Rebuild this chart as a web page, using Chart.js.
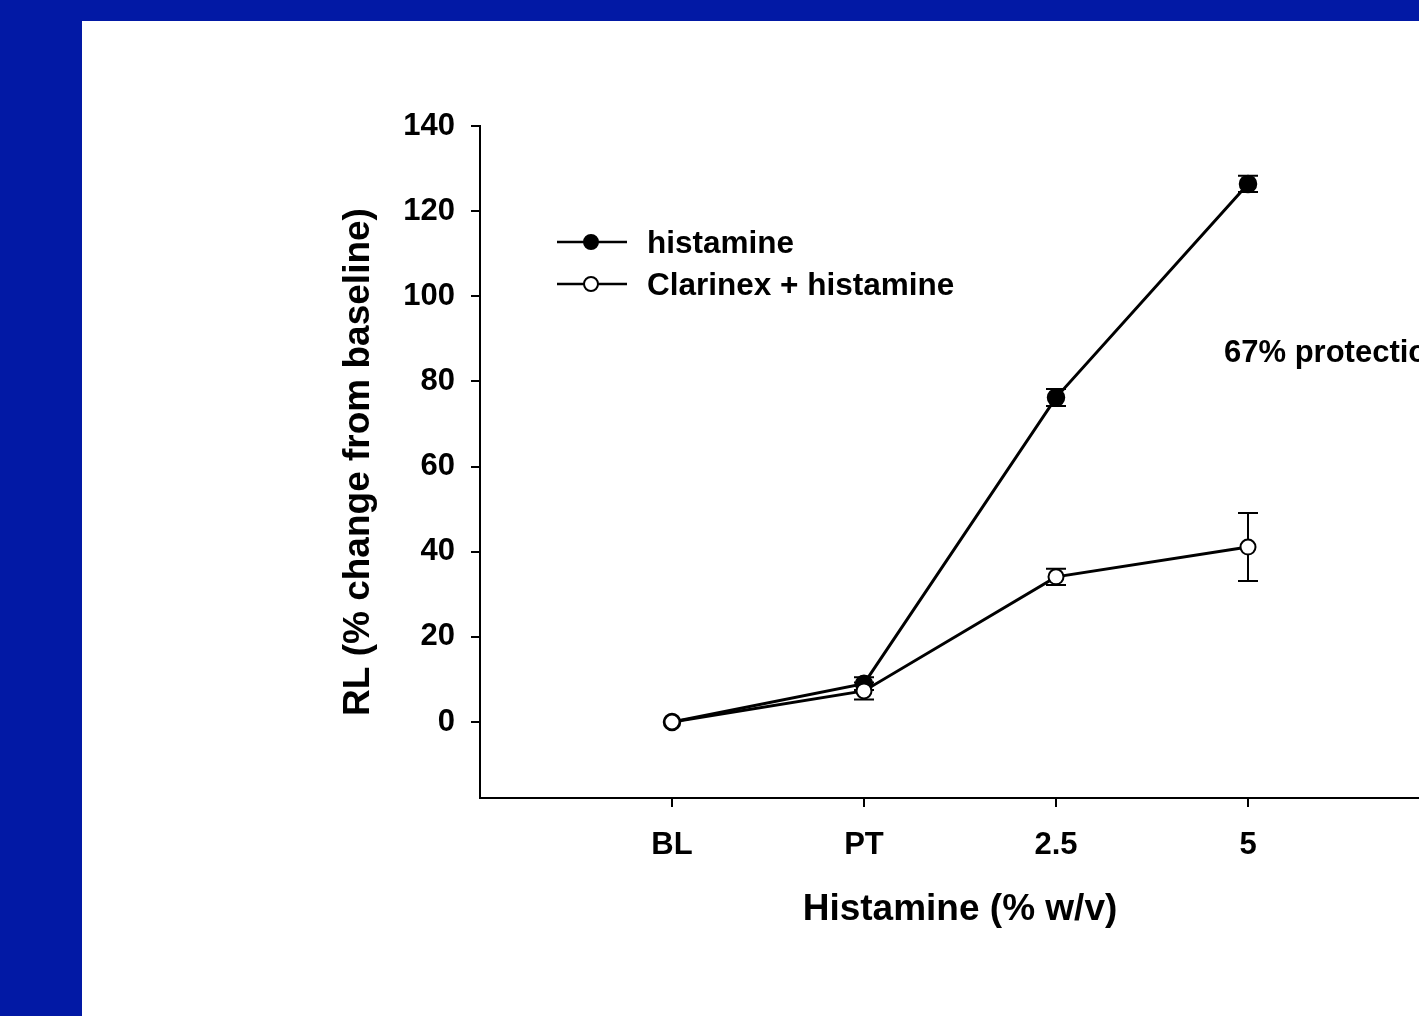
<!DOCTYPE html>
<html>
<head>
<meta charset="utf-8">
<script src="https://cdn.jsdelivr.net/npm/chart.js@4.4.1/dist/chart.umd.min.js"></script>
<style>
  html, body { margin: 0; padding: 0; background: #0219A5; overflow: hidden; width: 1419px; height: 1016px; }
  #wrap { position: absolute; left: 82px; top: 21px; width: 1418px; height: 995px; background: #fff; }
</style>
</head>
<body>
<div id="wrap"><canvas id="rlChart"></canvas></div>

<script>
  // doses on the x axis
  const doses = ['BL', 'PT', '2.5', '5'];

  // RL % change from baseline, mean and error
  const histamine = [0, 9, 76.2, 126.4];
  const histamineErr = [0, 1.5, 2, 1.9];
  const clarinex = [0, 7.3, 34.1, 41.1];
  const clarinexErr = [0, 2, 1.9, 8];

  const yTicks = [0, 20, 40, 60, 80, 100, 120, 140];
  const legendLabels = ['histamine', 'Clarinex + histamine'];
  const note = '67% protection';

  const FONT = "'Liberation Sans', Arial, Helvetica, sans-serif";

  const toPoints = (vals) => vals.map((v, i) => ({x: i + 1, y: v}));

  // error bars, drawn under the markers
  const errorBars = {
    id: 'errorBars',
    beforeDatasetsDraw(chart) {
      const {ctx, scales: {x, y}} = chart;
      ctx.save();
      ctx.strokeStyle = '#000';
      ctx.lineWidth = 2;
      [[histamine, histamineErr], [clarinex, clarinexErr]].forEach(([vals, errs]) => {
        vals.forEach((v, i) => {
          const e = errs[i];
          if (!e) return;
          const px = x.getPixelForValue(i + 1);
          const top = y.getPixelForValue(v + e);
          const bot = y.getPixelForValue(v - e);
          ctx.beginPath();
          ctx.moveTo(px, top); ctx.lineTo(px, bot);
          ctx.moveTo(px - 10, top); ctx.lineTo(px + 10, top);
          ctx.moveTo(px - 10, bot); ctx.lineTo(px + 10, bot);
          ctx.stroke();
        });
      });
      ctx.restore();
    }
  };

  // legend and the protection note
  const extras = {
    id: 'extras',
    afterDraw(chart) {
      const {ctx, chartArea, scales: {x, y}} = chart;
      ctx.save();
      ctx.font = 'bold 31.5px ' + FONT;
      ctx.textBaseline = 'middle';
      ctx.textAlign = 'left';
      ctx.fillStyle = '#000';
      const lx = chartArea.left + 77;
      const rows = [chartArea.top + 116, chartArea.top + 158];
      rows.forEach((ly, i) => {
        ctx.strokeStyle = '#000';
        ctx.lineWidth = 2.5;
        ctx.beginPath();
        ctx.moveTo(lx, ly); ctx.lineTo(lx + 70, ly);
        ctx.stroke();
        ctx.beginPath();
        ctx.arc(lx + 34, ly, 7, 0, Math.PI * 2);
        ctx.fillStyle = i === 0 ? '#000' : '#fff';
        ctx.fill();
        ctx.lineWidth = 2;
        ctx.stroke();
        ctx.fillStyle = '#000';
        ctx.fillText(legendLabels[i], lx + 90, ly + 2);
      });
      ctx.font = 'bold 31px ' + FONT;
      ctx.fillText(note, x.getPixelForValue(3.875), y.getPixelForValue(86.5));
      ctx.restore();
    }
  };

  new Chart('rlChart', {
    type: 'line',
    data: {
      datasets: [{
        label: legendLabels[0],
        data: toPoints(histamine),
        order: 1,
        borderColor: '#000',
        borderWidth: 3,
        pointRadius: 8.5,
        pointBorderWidth: 1.5,
        pointBackgroundColor: '#000',
        pointBorderColor: '#000',
        lineTension: 0,
        fill: false
      }, {
        label: legendLabels[1],
        data: toPoints(clarinex),
        order: 0,
        borderColor: '#000',
        borderWidth: 3,
        pointRadius: 7.5,
        pointBorderWidth: 2,
        pointBackgroundColor: '#fff',
        pointBorderColor: '#000',
        lineTension: 0,
        fill: false
      }]
    },
    options: {
      responsive: true,
      maintainAspectRatio: false,
      animation: false,
      layout: {padding: {top: 105, right: 60, left: 0, bottom: 0}},
      scales: {
        x: {
          type: 'linear',
          min: 0,
          max: 5,
          afterBuildTicks(scale) {
            scale.ticks = doses.map((d, i) => ({value: i + 1}));
          },
          afterFit(scale) { scale.height = 218; },
          ticks: {
            autoSkip: false,
            maxRotation: 0,
            padding: 20,
            color: '#000',
            font: {family: FONT, size: 31, weight: 'bold'},
            callback: (v) => doses[v - 1] ?? ''
          },
          grid: {drawOnChartArea: false, drawTicks: true, tickLength: 9, color: '#000', lineWidth: 2},
          border: {display: true, color: '#000', width: 2},
          title: {
            display: true,
            text: 'Histamine (% w/v)',
            color: '#000',
            font: {family: FONT, size: 37, weight: 'bold'},
            padding: {top: 0, bottom: 84}
          }
        },
        y: {
          min: -17.85,
          max: 140,
          afterBuildTicks(scale) {
            scale.ticks = yTicks.map((v) => ({value: v}));
          },
          afterFit(scale) { scale.width = 398; },
          ticks: {
            padding: 16,
            color: '#000',
            font: {family: FONT, size: 31, weight: 'bold'}
          },
          grid: {drawOnChartArea: false, drawTicks: true, tickLength: 9, color: '#000', lineWidth: 2},
          border: {display: true, color: '#000', width: 2},
          title: {
            display: true,
            text: 'RL (% change from baseline)',
            color: '#000',
            font: {family: FONT, size: 37, weight: 'bold'},
            padding: {top: 255, bottom: 0}
          }
        }
      },
      plugins: {
        legend: {display: false},
        tooltip: {enabled: false}
      }
    },
    plugins: [errorBars, extras]
  });
</script>
</body>
</html>
